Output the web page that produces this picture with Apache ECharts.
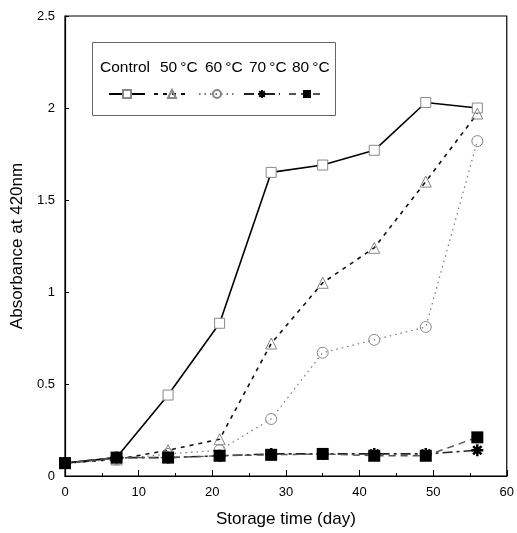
<!DOCTYPE html>
<html><head><meta charset="utf-8">
<script src="https://cdn.jsdelivr.net/npm/echarts@6/dist/echarts.min.js"></script>
<style>html,body{margin:0;padding:0;background:#fff}#c{width:517px;height:533px}</style>
</head><body><div id="c"></div>
<script>
const days = [0, 7, 14, 21, 28, 35, 42, 49, 56];
const seriesNames = ['Control', '50°C', '60°C', '70°C', '80°C'];
const control = [0.07, 0.10, 0.44, 0.83, 1.65, 1.69, 1.77, 2.03, 2.00];
const c50 = [0.07, 0.09, 0.14, 0.20, 0.72, 1.05, 1.24, 1.60, 1.97];
const c60 = [0.07, 0.09, 0.12, 0.14, 0.31, 0.67, 0.74, 0.81, 1.82];
const c70 = [0.07, 0.10, 0.10, 0.11, 0.12, 0.12, 0.12, 0.12, 0.14];
const c80 = [0.07, 0.10, 0.10, 0.11, 0.115, 0.12, 0.11, 0.11, 0.21];
const xTicks = [0, 10, 20, 30, 40, 50, 60];
const yTicks = [0, 0.5, 1, 1.5, 2, 2.5];

const font = 'Liberation Sans, Arial, Helvetica, sans-serif';
function pairs(arr) { return days.map((d, i) => [d, arr[i]]); }

const chart = echarts.init(document.getElementById('c'), null, {renderer: 'canvas'});
const styles = [
  {data: control, line: {color: '#000', width: 1.6, type: 'solid'}, symbol: 'rect', size: 10, item: {color: '#fff', borderColor: '#888', borderWidth: 1}},
  {data: c50, line: {color: '#111', width: 1.6, type: [4, 5]}, symbol: 'triangle', size: 11, item: {color: 'transparent', borderColor: '#888', borderWidth: 1}},
  {data: c60, line: {color: '#777', width: 1.2, type: [1.5, 4]}, symbol: 'circle', size: 11, item: {color: 'transparent', borderColor: '#888', borderWidth: 1}},
  {data: c70, line: {color: '#222', width: 1.6, type: [10, 4, 3, 4]}, symbol: 'path://M0,5 L10,5 M5,0 L5,10 M1.5,1.5 L8.5,8.5 M8.5,1.5 L1.5,8.5', size: 12, item: {color: '#000', borderColor: '#000', borderWidth: 2.5}},
  {data: c80, line: {color: '#555', width: 1.4, type: [7, 5]}, symbol: 'rect', size: 12, item: {color: '#000', borderColor: '#000', borderWidth: 0}}
];

const labelText = ['Control', '50\u2009°C', '60\u2009°C', '70\u2009°C', '80\u2009°C'];
const labelX = [100, 160, 205, 249, 292];
const option = {
  animation: false,
  backgroundColor: '#fff',
  grid: {left: 65, right: 9, top: 16, bottom: 56, show: true, borderColor: '#000', borderWidth: 1.2},
  xAxis: {
    type: 'value', min: 0, max: 60, interval: 10,
    name: 'Storage time (day)', nameLocation: 'middle', nameGap: 35,
    nameTextStyle: {fontFamily: font, fontSize: 17, color: '#000'},
    axisLine: {lineStyle: {color: '#000', width: 1.2}},
    axisTick: {inside: true, length: 6, lineStyle: {color: '#000'}},
    minorTick: {show: true, splitNumber: 2, length: 3, lineStyle: {color: '#000'}},
    splitLine: {show: false},
    axisLabel: {fontFamily: font, fontSize: 13, color: '#000', margin: 10}
  },
  yAxis: {
    type: 'value', min: 0, max: 2.5, interval: 0.5,
    name: 'Absorbance at 420nm', nameLocation: 'middle', nameGap: 37,
    nameTextStyle: {fontFamily: font, fontSize: 17, color: '#000'},
    axisLine: {lineStyle: {color: '#000', width: 1.2}},
    axisTick: {inside: true, length: 4, lineStyle: {color: '#000'}},
    splitLine: {show: false},
    axisLabel: {fontFamily: font, fontSize: 13, color: '#000', margin: 10, formatter: v => String(v)}
  },
  legend: {
    left: 103, top: 84, orient: 'horizontal',
    itemWidth: 36, itemHeight: 10, itemGap: 7,
    formatter: () => '',
    textStyle: {fontSize: 1},
    data: seriesNames
  },
  graphic: [
    {type: 'rect', left: 90, top: 40, shape: {width: 243, height: 73}, style: {fill: 'none', stroke: '#666', lineWidth: 1}, z: 10}
  ].concat(labelText.map((n, i) => ({
    type: 'text', left: labelX[i], top: 60, z: 11,
    style: {text: n, fontFamily: font, fontSize: 15.5, fill: '#000'}
  }))),
  series: styles.map((s, i) => ({
    name: seriesNames[i], type: 'line', data: pairs(s.data),
    symbol: s.symbol, symbolSize: s.size, showAllSymbol: true,
    lineStyle: s.line, itemStyle: s.item, z: 2 + i
  }))
};
chart.setOption(option);
</script></body></html>
